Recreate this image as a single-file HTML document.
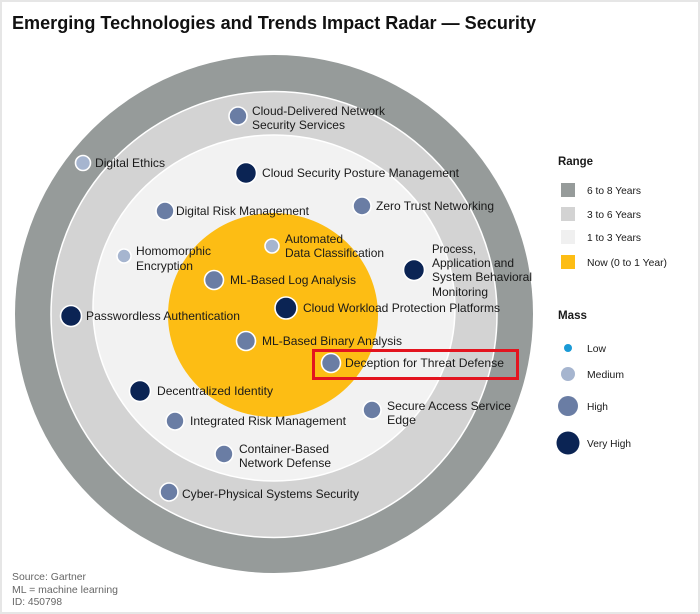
<!DOCTYPE html>
<html><head><meta charset="utf-8"><style>
html,body{margin:0;padding:0;background:#fff;}
svg{display:block;}
text{font-family:"Liberation Sans",Arial,sans-serif;}
</style></head><body>
<svg width="700" height="614" viewBox="0 0 700 614" xmlns="http://www.w3.org/2000/svg">
<rect x="0" y="0" width="700" height="614" fill="#fff"/>
<rect x="1" y="1" width="698" height="612" fill="none" stroke="#e6e6e6" stroke-width="2"/>
<text x="12" y="29" font-size="18" font-weight="bold" fill="#111" textLength="524" lengthAdjust="spacingAndGlyphs">Emerging Technologies and Trends Impact Radar — Security</text>

<circle cx="274" cy="314" r="259" fill="#969b9a"/>
<circle cx="274" cy="314.5" r="223" fill="#d3d3d3" stroke="#fff" stroke-width="1.5"/>
<ellipse cx="274" cy="308" rx="181" ry="173" fill="#f2f2f2" stroke="#fff" stroke-width="1.5"/>
<ellipse cx="273" cy="315" rx="105" ry="102" fill="#fdbd14"/>

<g stroke="#fff" stroke-width="1.6">
<circle cx="238" cy="116" r="9" fill="#6a7da4"/>
<circle cx="83" cy="163" r="7.5" fill="#a6b5cf"/>
<circle cx="246" cy="173" r="10.5" fill="#0b2454"/>
<circle cx="165" cy="211" r="9" fill="#6a7da4"/>
<circle cx="362" cy="206" r="9" fill="#6a7da4"/>
<circle cx="124" cy="256" r="7" fill="#a6b5cf"/>
<circle cx="272" cy="246" r="7" fill="#a6b5cf"/>
<circle cx="414" cy="270" r="10.5" fill="#0b2454"/>
<circle cx="214" cy="280" r="9.5" fill="#6a7da4"/>
<circle cx="71" cy="316" r="10.5" fill="#0b2454"/>
<circle cx="286" cy="308" r="11" fill="#0b2454"/>
<circle cx="246" cy="341" r="9.5" fill="#6a7da4"/>
<circle cx="331" cy="363" r="9.5" fill="#6a7da4"/>
<circle cx="140" cy="391" r="10.5" fill="#0b2454"/>
<circle cx="175" cy="421" r="9" fill="#6a7da4"/>
<circle cx="372" cy="410" r="9" fill="#6a7da4"/>
<circle cx="224" cy="454" r="9" fill="#6a7da4"/>
<circle cx="169" cy="492" r="9" fill="#6a7da4"/>
</g>

<g font-size="12" fill="#1a1a1a">
<text x="252" y="115" textLength="133" lengthAdjust="spacingAndGlyphs">Cloud-Delivered Network</text>
<text x="252" y="129" textLength="93" lengthAdjust="spacingAndGlyphs">Security Services</text>
<text x="95" y="167" textLength="70" lengthAdjust="spacingAndGlyphs">Digital Ethics</text>
<text x="262" y="177" textLength="197" lengthAdjust="spacingAndGlyphs">Cloud Security Posture Management</text>
<text x="176" y="215" textLength="133" lengthAdjust="spacingAndGlyphs">Digital Risk Management</text>
<text x="376" y="210" textLength="118" lengthAdjust="spacingAndGlyphs">Zero Trust Networking</text>
<text x="136" y="255" textLength="75" lengthAdjust="spacingAndGlyphs">Homomorphic</text>
<text x="136" y="270" textLength="57" lengthAdjust="spacingAndGlyphs">Encryption</text>
<text x="285" y="243" textLength="58" lengthAdjust="spacingAndGlyphs">Automated</text>
<text x="285" y="257" textLength="99" lengthAdjust="spacingAndGlyphs">Data Classification</text>
<text x="432" y="253" textLength="44" lengthAdjust="spacingAndGlyphs">Process,</text>
<text x="432" y="267" textLength="82" lengthAdjust="spacingAndGlyphs">Application and</text>
<text x="432" y="281" textLength="100" lengthAdjust="spacingAndGlyphs">System Behavioral</text>
<text x="432" y="296" textLength="56" lengthAdjust="spacingAndGlyphs">Monitoring</text>
<text x="230" y="284" textLength="126" lengthAdjust="spacingAndGlyphs">ML-Based Log Analysis</text>
<text x="86" y="320" textLength="154" lengthAdjust="spacingAndGlyphs">Passwordless Authentication</text>
<text x="303" y="312" textLength="197" lengthAdjust="spacingAndGlyphs">Cloud Workload Protection Platforms</text>
<text x="262" y="345" textLength="140" lengthAdjust="spacingAndGlyphs">ML-Based Binary Analysis</text>
<text x="345" y="367" textLength="159" lengthAdjust="spacingAndGlyphs">Deception for Threat Defense</text>
<text x="157" y="395" textLength="116" lengthAdjust="spacingAndGlyphs">Decentralized Identity</text>
<text x="190" y="425" textLength="156" lengthAdjust="spacingAndGlyphs">Integrated Risk Management</text>
<text x="387" y="410" textLength="124" lengthAdjust="spacingAndGlyphs">Secure Access Service</text>
<text x="387" y="424" textLength="29" lengthAdjust="spacingAndGlyphs">Edge</text>
<text x="239" y="453" textLength="90" lengthAdjust="spacingAndGlyphs">Container-Based</text>
<text x="239" y="467" textLength="92" lengthAdjust="spacingAndGlyphs">Network Defense</text>
<text x="182" y="498" textLength="177" lengthAdjust="spacingAndGlyphs">Cyber-Physical Systems Security</text>
</g>

<rect x="313.5" y="350.5" width="204" height="28" fill="none" stroke="#e3141f" stroke-width="3"/>

<text x="558" y="165" font-size="12" font-weight="bold" fill="#1a1a1a" textLength="35" lengthAdjust="spacingAndGlyphs">Range</text>
<rect x="561" y="183" width="14" height="14" fill="#969b9a"/>
<rect x="561" y="207" width="14" height="14" fill="#d3d3d3"/>
<rect x="561" y="230" width="14" height="14" fill="#f0f0f0"/>
<rect x="561" y="255" width="14" height="14" fill="#fdbd14"/>
<g font-size="10.5" fill="#1a1a1a">
<text x="587" y="194" textLength="54" lengthAdjust="spacingAndGlyphs">6 to 8 Years</text>
<text x="587" y="218" textLength="54" lengthAdjust="spacingAndGlyphs">3 to 6 Years</text>
<text x="587" y="241" textLength="54" lengthAdjust="spacingAndGlyphs">1 to 3 Years</text>
<text x="587" y="266" textLength="80" lengthAdjust="spacingAndGlyphs">Now (0 to 1 Year)</text>
</g>
<text x="558" y="319" font-size="12" font-weight="bold" fill="#1a1a1a" textLength="29" lengthAdjust="spacingAndGlyphs">Mass</text>
<circle cx="568" cy="348" r="4" fill="#1a9ad6"/>
<circle cx="568" cy="374" r="7" fill="#a6b5cf"/>
<circle cx="568" cy="406" r="10" fill="#6a7da4"/>
<circle cx="568" cy="443" r="11.5" fill="#0b2454"/>
<g font-size="10.5" fill="#1a1a1a">
<text x="587" y="352" textLength="19" lengthAdjust="spacingAndGlyphs">Low</text>
<text x="587" y="378" textLength="37" lengthAdjust="spacingAndGlyphs">Medium</text>
<text x="587" y="410" textLength="21" lengthAdjust="spacingAndGlyphs">High</text>
<text x="587" y="447" textLength="44" lengthAdjust="spacingAndGlyphs">Very High</text>
</g>

<g font-size="10.5" fill="#666">
<text x="12" y="580" textLength="74" lengthAdjust="spacingAndGlyphs">Source: Gartner</text>
<text x="12" y="593" textLength="106" lengthAdjust="spacingAndGlyphs">ML = machine learning</text>
<text x="12" y="605" textLength="50" lengthAdjust="spacingAndGlyphs">ID: 450798</text>
</g>
</svg>
</body></html>
